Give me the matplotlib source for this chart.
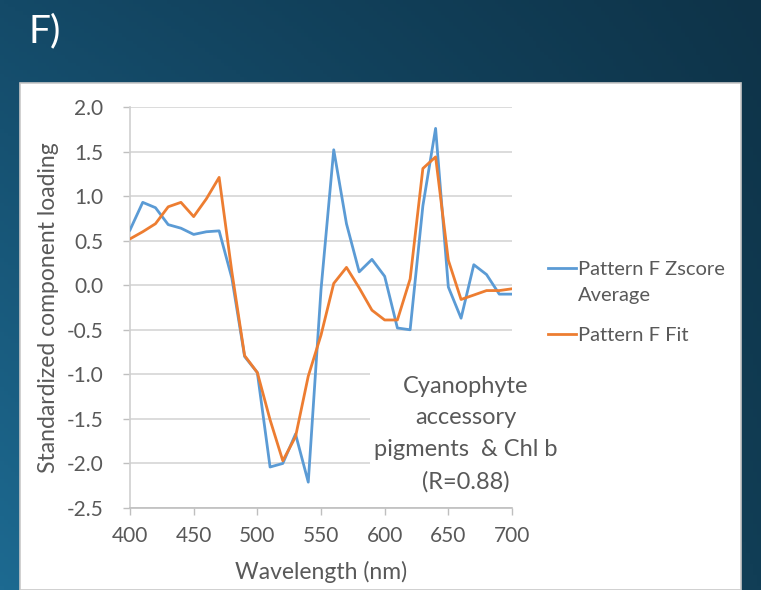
import numpy as np
import matplotlib
matplotlib.use("Agg")
import matplotlib.pyplot as plt
from matplotlib.patches import Rectangle
from matplotlib.lines import Line2D

plt.rcParams['font.family'] = ['Lato', 'DejaVu Sans']

wavelength = list(range(400, 701, 10))
zscore_avg = [0.62, 0.93, 0.87, 0.68, 0.64, 0.57, 0.60, 0.61, 0.08, -0.80,
              -0.98, -2.04, -2.00, -1.67, -2.21, -0.05, 1.52, 0.69, 0.15, 0.29,
              0.10, -0.48, -0.50, 0.89, 1.76, -0.02, -0.37, 0.23, 0.12, -0.10,
              -0.10]
fit = [0.52, 0.60, 0.69, 0.88, 0.93, 0.77, 0.97, 1.21, 0.15, -0.79,
       -0.98, -1.51, -1.97, -1.70, -1.02, -0.56, 0.02, 0.20, -0.03, -0.28,
       -0.39, -0.39, 0.07, 1.31, 1.44, 0.28, -0.16, -0.11, -0.06, -0.06,
       -0.04]
series_names = ['Pattern F Zscore\nAverage', 'Pattern F Fit']
yticks = [2.0, 1.5, 1.0, 0.5, 0.0, -0.5, -1.0, -1.5, -2.0, -2.5]
xticks = [400, 450, 500, 550, 600, 650, 700]

W, H = 761, 590
GREY = '#595959'
fig = plt.figure(figsize=(W / 100, H / 100), dpi=100)

# slide background gradient
bg = fig.add_axes([0, 0, 1, 1])
bg.set_axis_off()
tl = np.array([20, 74, 104]) / 255
tr = np.array([14, 51, 72]) / 255
bl = np.array([29, 106, 145]) / 255
br = np.array([17, 62, 86]) / 255
u = np.linspace(0, 1, 200)[None, :, None]
v = np.linspace(0, 1, 160)[:, None, None]
img = (1 - v) * ((1 - u) * tl + u * tr) + v * ((1 - u) * bl + u * br)
bg.imshow(img, aspect='auto', extent=[0, 1, 0, 1])
bg.set_xlim(0, 1)
bg.set_ylim(0, 1)
bg.add_patch(Rectangle((20 / W, 0), 721 / W, (H - 83) / H, facecolor='white',
                       edgecolor='#c8c8c8', linewidth=1.2))
fig.text(28 / W, 1 - 31 / H, 'F)', color='white', fontsize=28,
         va='center', ha='left', fontstretch='condensed')

ax = fig.add_axes([130 / W, (H - 508) / H, 382 / W, 401 / H])
l1, = ax.plot(wavelength, zscore_avg, color='#5b9bd5', linewidth=2.0, zorder=3)
l2, = ax.plot(wavelength, fit, color='#ed7d31', linewidth=2.0, zorder=3)

ax.set_xlim(400, 700)
ax.set_ylim(-2.5, 2.0)
ax.set_xticks(xticks)
ax.set_yticks(yticks)
ax.set_yticklabels([f'{t:.1f}' for t in yticks])
ax.grid(axis='y', color='#d9d9d9', linewidth=1.3)
ax.set_axisbelow(True)
for s in ['top', 'right']:
    ax.spines[s].set_visible(False)
ax.spines['left'].set_color('#d0d0d0')
ax.spines['bottom'].set_color('#bfbfbf')
ax.spines['left'].set_linewidth(1.2)
ax.spines['bottom'].set_linewidth(1.2)
ax.tick_params(axis='both', colors='#bfbfbf', labelcolor=GREY,
               labelsize=15, length=5, width=1.0)
ax.tick_params(axis='x', pad=8)
ax.tick_params(axis='y', pad=14)
ax.set_xlabel('Wavelength (nm)', fontsize=16.5, color=GREY, labelpad=11)
ax.set_ylabel('Standardized component loading', fontsize=16.5,
              color=GREY, labelpad=6)

# legend, handle level with the first text line as in the source
for line, name, y in zip([l1, l2], series_names, [268, 334]):
    fig.add_artist(Line2D([548 / W, 576 / W], [1 - y / H, 1 - y / H],
                          color=line.get_color(), linewidth=2.0,
                          transform=fig.transFigure))
    fig.text(578 / W, 1 - (y - 7) / H, name, ha='left', va='top',
             fontsize=14.5, color=GREY, linespacing=1.65)

fig.text(466 / W, 1 - 434 / H,
         'Cyanophyte\naccessory\npigments  & Chl b\n(R=0.88)',
         ha='center', va='center', fontsize=17, color=GREY,
         linespacing=1.62,
         bbox=dict(facecolor='white', edgecolor='none', pad=3))

fig.savefig('out.png', dpi=100)
